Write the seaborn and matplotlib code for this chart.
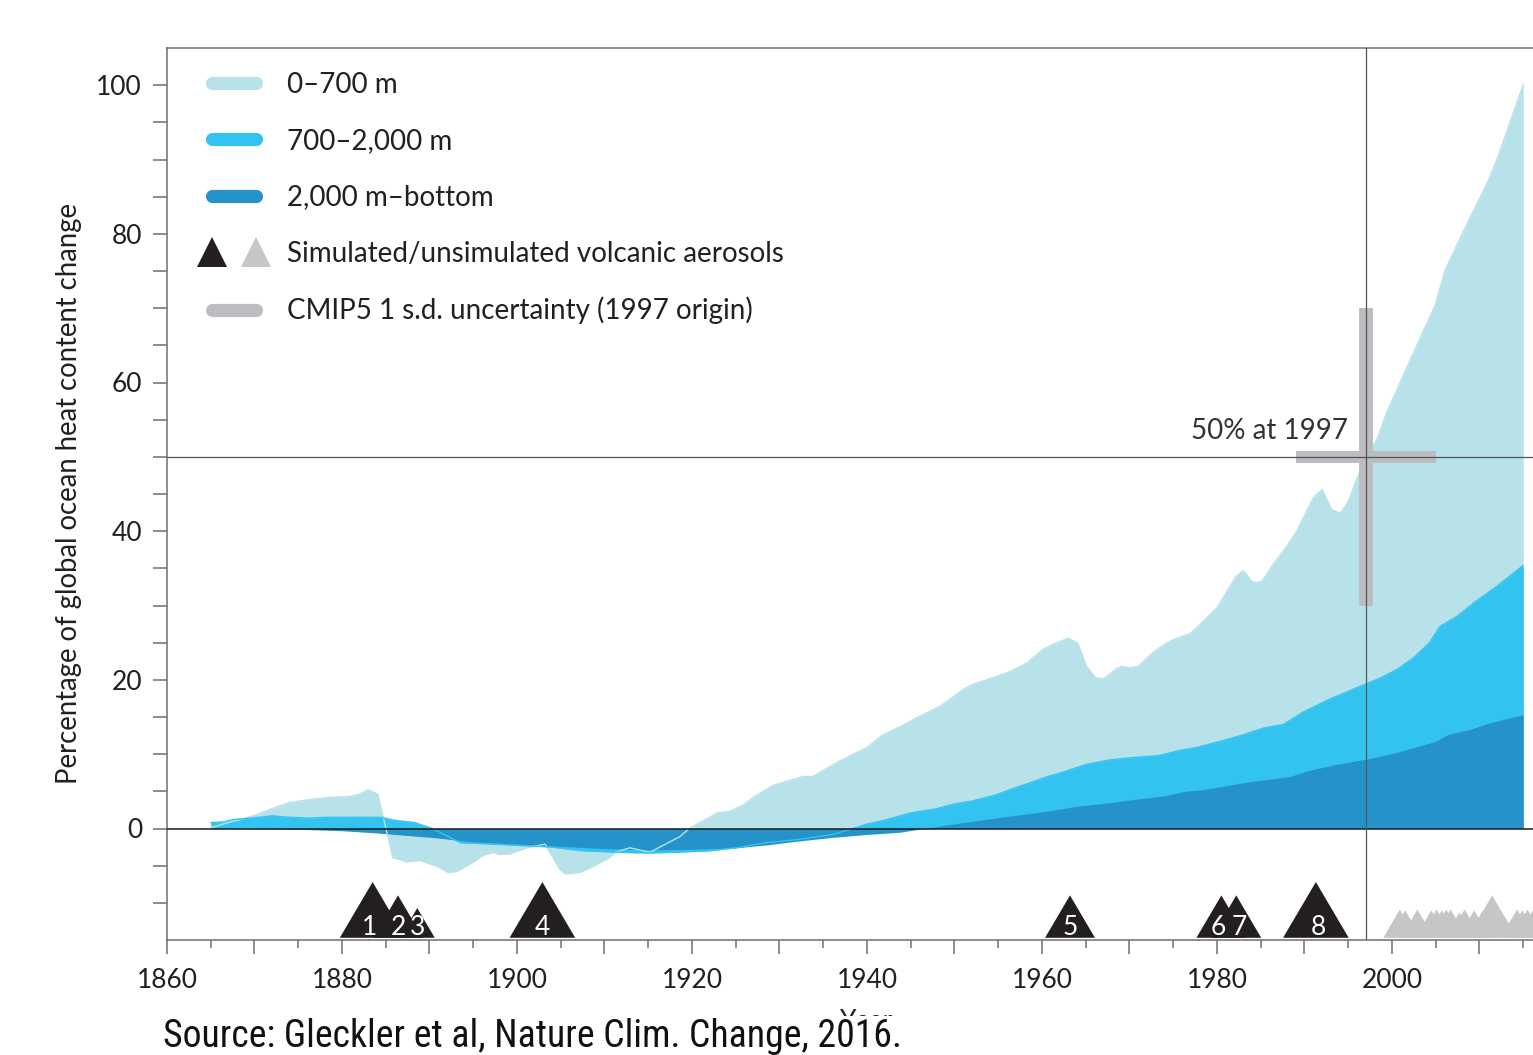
import matplotlib
matplotlib.use("Agg")
import matplotlib.pyplot as plt
from matplotlib.lines import Line2D
from matplotlib.legend_handler import HandlerTuple
from matplotlib.ticker import FixedLocator, FuncFormatter
from matplotlib import font_manager
from matplotlib.font_manager import FontProperties
import seaborn as sns

# ---------------------------------------------------------------------------
# Ocean heat content change, % of 1865-2015 total (cumulative boundaries)
# ---------------------------------------------------------------------------
# full depth (0 m - bottom), i.e. top of the 0-700 m layer
total_years = [1865, 1867, 1869, 1870.3, 1871.8, 1874, 1876.3, 1878.6, 1880.9, 1882,
               1883, 1884.1, 1885.8, 1887.4, 1888.9, 1890.9, 1892.1, 1893.1, 1895, 1896.1,
               1897.3, 1898, 1899.2, 1901.1, 1903.2, 1904.9, 1905.5, 1907.2, 1908.7, 1910.6,
               1911.2, 1912.9, 1915.2, 1918.6, 1919.8, 1920.9, 1922.9, 1924.3, 1925.8, 1927,
               1929.3, 1930.4, 1932.7, 1933.8, 1936.6, 1938.4, 1940, 1941.8, 1943.8, 1946,
               1948.3, 1951, 1952.1, 1954.9, 1956.3, 1958.3, 1960.1, 1961.3, 1963, 1964.1,
               1965.1, 1966.1, 1967, 1968.5, 1969.1, 1970.1, 1971, 1972.7, 1974.3, 1975.4,
               1976.9, 1978.1, 1980, 1982.1, 1983, 1984.1, 1985.1, 1986.4, 1988, 1989.1,
               1991, 1992, 1993.1, 1994.1, 1995, 1996.1, 1997.1, 1998.3, 1999.4, 2002.1,
               2004.9, 2006.1, 2008.1, 2010.9, 2012, 2015]
total_pct = [0.1, 0.8, 1.4, 1.9, 2.6, 3.5, 3.9, 4.2, 4.3, 4.6,
             5.2, 4.6, -3.9, -4.5, -4.3, -5.1, -5.9, -5.8, -4.5, -3.6,
             -3.2, -3.5, -3.4, -2.6, -2.1, -5.5, -6.1, -5.9, -5.1, -3.9,
             -3.2, -2.6, -3.2, -1.1, 0.1, 0.8, 2.1, 2.3, 3.1, 4.2,
             5.8, 6.2, 7.0, 7.0, 8.9, 10.0, 10.9, 12.6, 13.7, 15.1,
             16.4, 18.7, 19.4, 20.5, 21.1, 22.3, 24.1, 24.8, 25.6, 24.9,
             21.8, 20.3, 20.1, 21.5, 21.8, 21.6, 21.8, 23.7, 25.0, 25.6,
             26.2, 27.5, 29.7, 33.8, 34.7, 33.1, 33.2, 35.5, 38.0, 40.0,
             44.5, 45.6, 42.9, 42.4, 44.0, 47.4, 50.1, 52.4, 56.0, 63.1,
             70.3, 75.2, 80.2, 86.9, 90.0, 100.1]

# 700 m - bottom, i.e. top of the 700-2,000 m layer
below700_years = [1865, 1866.5, 1867.5, 1870.5, 1872, 1874, 1876.3, 1878.3, 1882, 1884.5,
                  1886, 1888.3, 1890.3, 1893.5, 1899, 1904, 1907.6, 1911.6, 1915, 1918,
                  1922, 1925, 1928.6, 1932, 1936.1, 1938.4, 1940, 1942, 1945, 1947.7,
                  1950, 1952, 1954.7, 1956.5, 1958.8, 1960.4, 1962.2, 1965, 1967.6, 1970,
                  1973.4, 1975.7, 1977.7, 1980.3, 1983, 1985.3, 1987.6, 1989.9, 1992.9, 1996.3,
                  1998.6, 2000.6, 2002.5, 2004.3, 2005.5, 2007.4, 2009.4, 2012, 2015]
below700_pct = [0.8, 0.9, 1.2, 1.5, 1.7, 1.5, 1.4, 1.5, 1.5, 1.5,
                1.1, 0.8, 0.0, -1.9, -2.2, -2.5, -3.0, -3.2, -3.3, -3.2,
                -3.0, -2.6, -1.9, -1.5, -0.8, 0.0, 0.6, 1.1, 2.1, 2.6,
                3.3, 3.7, 4.5, 5.3, 6.2, 6.9, 7.5, 8.6, 9.2, 9.5,
                9.8, 10.5, 10.9, 11.7, 12.6, 13.5, 14.0, 15.7, 17.4, 19.1,
                20.2, 21.4, 23.0, 25.0, 27.2, 28.5, 30.4, 32.6, 35.4]

# 2,000 m - bottom
below2000_years = [1865, 1870, 1875, 1880, 1884, 1887, 1890.3, 1895, 1900, 1905,
                   1910, 1915, 1920, 1925, 1928.6, 1932, 1936, 1940, 1943.8, 1946.4,
                   1951, 1956.5, 1960.4, 1964.1, 1967.9, 1970.4, 1974, 1976.3, 1978.3, 1983.2,
                   1988.3, 1990.5, 1993.5, 1997.4, 2000.4, 2003.4, 2004.9, 2006.5, 2008.8, 2011.4,
                   2015]
below2000_pct = [0.0, 0.0, -0.1, -0.3, -0.6, -0.9, -1.2, -1.8, -2.1, -2.4,
                 -2.7, -2.9, -2.8, -2.6, -2.2, -1.7, -1.2, -0.8, -0.5, 0.0,
                 0.8, 1.7, 2.3, 3.0, 3.5, 3.9, 4.4, 5.0, 5.2, 6.2,
                 7.0, 7.8, 8.6, 9.4, 10.2, 11.2, 11.7, 12.7, 13.3, 14.3,
                 15.3]

# Volcanic eruptions included in the simulations (year, symbol size in % units)
volcano_years = [1883.5, 1886.4, 1888.6, 1902.9, 1963.2, 1980.5, 1982.2, 1991.3]
volcano_size = [7.5, 5.7, 4.0, 7.5, 5.7, 5.7, 5.7, 7.5]
volcano_labels = ["1", "2", "3", "4", "5", "6", "7", "8"]

# Smaller eruptions not included in the simulations
minor_volcano_years = [2000.9, 2001.5, 2002.9, 2004.5, 2005.1, 2005.7, 2006.2, 2006.7,
                       2007.7, 2008.3, 2009.4, 2010.4, 2011.45, 2014.3, 2014.9, 2015.5, 2016.1]
minor_volcano_size = [3.8, 3.7, 3.8, 3.7, 3.8, 3.7, 3.8, 3.8,
                      3.4, 3.8, 3.7, 3.7, 5.7, 3.8, 3.7, 3.8, 3.7]

# CMIP5 1 s.d. uncertainty cross, centred on 50 % at 1997
cross_year = 1997
cross_pct = 50
cross_year_sd = 8
cross_pct_sd = 20

series_labels = ["0\u2013700 m", "700\u20132,000 m", "2,000 m\u2013bottom",
                 "Simulated/unsimulated volcanic aerosols",
                 "CMIP5 1 s.d. uncertainty (1997 origin)"]

# ---------------------------------------------------------------------------
c_light = "#b8e2ea"
c_mid = "#33c3f0"
c_deep = "#2593c9"
c_cross = "#bcbdc0"
c_black = "#231f20"
c_grey_tri = "#c6c6c6"
c_spine = "#6d6e71"

sns.set_theme(style="ticks")
plt.rcParams["font.family"] = ["Lato", "DejaVu Sans"]
plt.rcParams["text.color"] = c_black

# a condensed face for the source line, if one is installed
source_font = FontProperties(family=["Lato", "DejaVu Sans"])
preferred = ["Roboto Condensed", "Liberation Sans Narrow", "Open Sans Condensed",
             "Noto Sans Condensed", "DejaVu Sans", "Noto Sans", "Roboto", "Open Sans"]
condensed = {}
for f in font_manager.fontManager.ttflist:
    if f.style == "normal" and (f.stretch in ("condensed", "semi-condensed", "extra-condensed")
                                or "Condensed" in f.name or "Narrow" in f.name):
        condensed.setdefault(f.name, f.fname)
for name in preferred:
    if name in condensed:
        source_font = FontProperties(fname=condensed[name])
        break
else:
    if condensed:
        source_font = FontProperties(fname=next(iter(condensed.values())))

fig = plt.figure(figsize=(15.33, 10.55), dpi=100)
ax = fig.add_axes([167 / 1533, 115 / 1055, 1400 / 1533, 892 / 1055])
ax.set_xlim(1860, 2020)
ax.set_ylim(-15, 105)

# stacked layers, each filled from zero to its cumulative boundary
ax.fill_between(total_years, 0, total_pct, color=c_light, lw=0, zorder=1)
ax.fill_between(below700_years, 0, below700_pct, color=c_mid, lw=0, zorder=2)
ax.fill_between(below2000_years, 0, below2000_pct, color=c_deep, lw=0, zorder=3)

# outlines of the upper layers, visible where they cross the deeper fills
sns.lineplot(x=total_years, y=total_pct, color=c_light, lw=1.0, ax=ax, zorder=4,
             estimator=None, sort=False)
sns.lineplot(x=below700_years, y=below700_pct, color=c_mid, lw=1.0, ax=ax, zorder=4,
             estimator=None, sort=False)

# uncertainty cross
ax.plot([cross_year, cross_year], [cross_pct - cross_pct_sd, cross_pct + cross_pct_sd],
        color=c_cross, lw=10, solid_capstyle="butt", zorder=5)
ax.plot([cross_year - cross_year_sd, cross_year + cross_year_sd], [cross_pct, cross_pct],
        color=c_cross, lw=8.6, solid_capstyle="butt", zorder=5)

# reference lines
ax.axhline(0, color="#1a1a1a", lw=1.1, zorder=6)
ax.axhline(50, color="#555555", lw=0.9, zorder=6)
ax.axvline(1997, color="#555555", lw=0.9, zorder=6)
ax.text(1995, 52.4, "50% at 1997", ha="right", va="baseline", fontsize=20,
        color="#333333", zorder=7)

# volcano symbols sitting on the bottom of the axes
base = -14.7
half_width = 0.5  # years per % unit of symbol height
for yr, h in zip(minor_volcano_years, minor_volcano_size):
    ax.fill([yr - half_width * h, yr, yr + half_width * h], [base, base + h, base],
            color=c_grey_tri, lw=0, zorder=7)
for yr, h in zip(volcano_years, volcano_size):
    ax.fill([yr - half_width * h, yr, yr + half_width * h], [base, base + h, base],
            color=c_black, lw=0, zorder=7)
nudge = {"1": -0.3, "6": -0.4, "7": 0.3, "8": 0.3}
for yr, lab in zip(volcano_years, volcano_labels):
    ax.text(yr + nudge.get(lab, 0), -14.27, lab, color="white", ha="center",
            va="baseline", fontsize=19, zorder=8)

# axes styling
for side in ["left", "top", "bottom"]:
    ax.spines[side].set_color(c_spine)
    ax.spines[side].set_linewidth(1.1)
ax.spines["right"].set_visible(False)

ax.xaxis.set_major_locator(FixedLocator(list(range(1860, 2021, 10))))
ax.xaxis.set_minor_locator(FixedLocator(list(range(1865, 2021, 10))))
ax.xaxis.set_major_formatter(FuncFormatter(
    lambda v, p: f"{int(round(v))}" if int(round(v)) % 20 == 0 and v < 2010 else ""))
ax.yaxis.set_major_locator(FixedLocator(list(range(-10, 101, 5))))
ax.yaxis.set_major_formatter(FuncFormatter(
    lambda v, p: f"{int(round(v))}" if int(round(v)) % 20 == 0 else ""))
ax.tick_params(axis="both", which="both", color=c_spine, width=1.1, labelsize=19,
               labelcolor=c_black, direction="out")
ax.tick_params(axis="x", which="major", length=10, pad=10)
ax.tick_params(axis="x", which="minor", length=5.8)
ax.tick_params(axis="y", which="major", length=10, pad=8)

ax.set_ylabel("Percentage of global ocean heat content change", fontsize=19.8, color=c_black)
ax.yaxis.set_label_coords(-0.0607, 0.5)
ax.set_xlabel("Year", fontsize=19, color=c_black)
ax.xaxis.set_label_coords(0.5, -0.0774)

# legend
leg_fs = 20
fs_px = leg_fs * 100 / 72
hl = 44 / fs_px
handles = [
    Line2D([], [], color=c_light, lw=9.5, solid_capstyle="round"),
    Line2D([], [], color=c_mid, lw=9.5, solid_capstyle="round"),
    Line2D([], [], color=c_deep, lw=9.5, solid_capstyle="round"),
    (Line2D([], [], ls="none", marker="^", ms=21, color=c_black, markeredgewidth=0),
     Line2D([], [], ls="none", marker="^", ms=21, color=c_grey_tri, markeredgewidth=0)),
    Line2D([], [], color=c_cross, lw=9.5, solid_capstyle="round"),
]
ax.legend(handles, series_labels, loc="upper left",
          bbox_to_anchor=(211.5 / 1533, 1 - 72 / 1055), bbox_transform=fig.transFigure,
          frameon=False, fontsize=leg_fs, handlelength=hl, handletextpad=31.5 / fs_px,
          labelspacing=1.087, borderpad=0, borderaxespad=0,
          handler_map={tuple: HandlerTuple(ndivide=None, pad=hl)})

src = fig.text(163 / 1533, 8 / 1055, "Source: Gleckler et al, Nature Clim. Change, 2016.",
               fontproperties=source_font, fontsize=27, color="#111111", va="baseline",
               bbox=dict(facecolor="white", edgecolor="none", pad=1.0), zorder=10)
# fit the source line to its column width
fig.canvas.draw()
w = src.get_window_extent().width
src.set_fontsize(27 * 737 / w)

fig.savefig("out.png", dpi=100)
